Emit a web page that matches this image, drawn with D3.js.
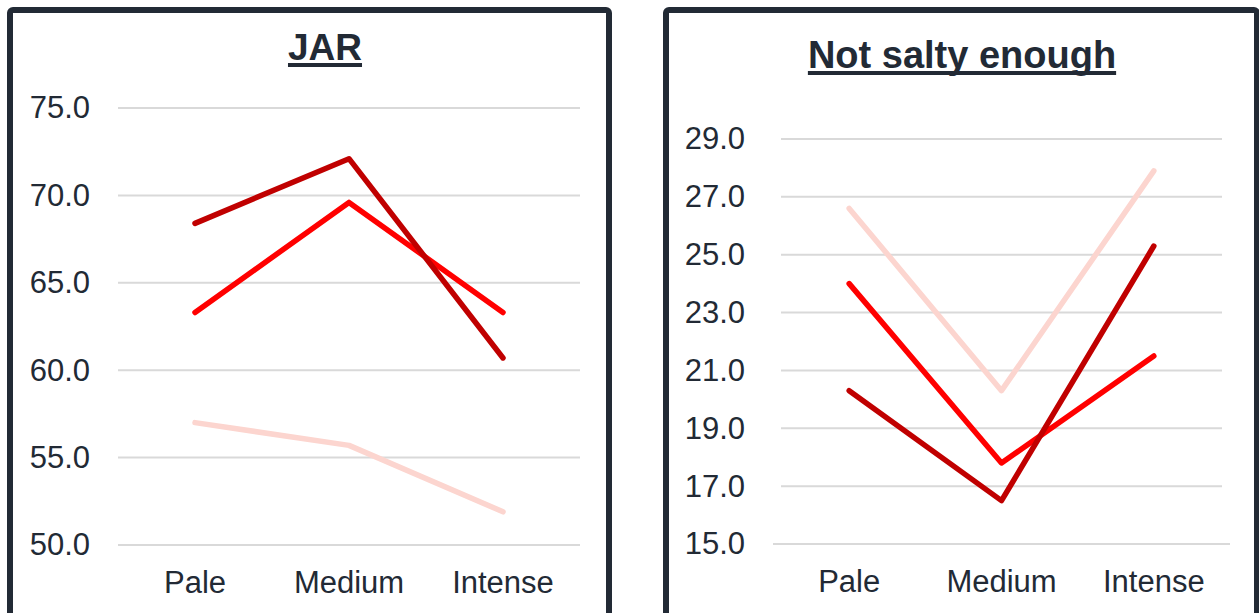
<!DOCTYPE html>
<html>
<head>
<meta charset="utf-8">
<script src="https://cdn.jsdelivr.net/npm/d3@7"></script>
<style>
  body { margin: 0; background: #fff; }
  svg { display: block; font-family: "Liberation Sans", Arial, sans-serif; }
</style>
</head>
<body>
<div id="chart"></div>
<script>
        var categories = ["Pale", "Medium", "Intense"];

        // JAR panel
        var jarDark = [68.4, 72.1, 60.7];
        var jarRed  = [63.3, 69.6, 63.3];
        var jarPink = [57.0, 55.7, 51.9];
        var jarTicks = [50, 55, 60, 65, 70, 75];

        // Not salty enough panel
        var saltDark = [20.3, 16.5, 25.3];
        var saltRed  = [24.0, 17.8, 21.5];
        var saltPink = [26.6, 20.3, 27.9];
        var saltTicks = [15, 17, 19, 21, 23, 25, 27, 29];

        var colors = { dark: "#C00000", red: "#FF0000", pink: "#FCD5CF" };
        var ink = "#222A35";

        var svg = d3.select("#chart")
            .append("svg")
                .attr("width", 1259)
                .attr("height", 613);

        // box = border rect, plot = plot area, gridInset = how far the gridlines stop short
        var panels = [
            { title: "JAR", titleX: 325, titleY: 60, underY: 63, titleSize: 37,
              box: { x: 10, y: 10, w: 599, h: 620 },
              plot: { left: 118, right: 580, top: 108, bottom: 545 },
              domain: [50, 75], ticks: jarTicks, gridInset: 0, labelX: 90,
              series: [["pink", jarPink], ["red", jarRed], ["dark", jarDark]] },
            { title: "Not salty enough", titleX: 962, titleY: 68, underY: 71, titleSize: 38,
              box: { x: 666, y: 10, w: 591, h: 620 },
              plot: { left: 773, right: 1230, top: 139, bottom: 544 },
              domain: [15, 29], ticks: saltTicks, gridInset: 8, labelX: 745,
              series: [["pink", saltPink], ["red", saltRed], ["dark", saltDark]] }
        ];

        panels.forEach(drawPanel);

        function drawPanel(p) {
            var g = svg.append("g");

            g.append("rect")
                .attr("x", p.box.x)
                .attr("y", p.box.y)
                .attr("width", p.box.w)
                .attr("height", p.box.h)
                .attr("rx", 3)
                .attr("fill", "none")
                .attr("stroke", ink)
                .attr("stroke-width", 6);

            var x = d3.scaleBand()
                .domain(categories)
                .range([p.plot.left, p.plot.right])
                .padding(0);
            var y = d3.scaleLinear()
                .domain(p.domain)
                .range([p.plot.bottom, p.plot.top]);

            // gridlines
            g.selectAll(".grid")
                .data(p.ticks)
              .enter().append("line")
                .attr("class", "grid")
                .attr("x1", function(d, i) { return i === 0 ? p.plot.left : p.plot.left + p.gridInset; })
                .attr("x2", function(d, i) { return i === 0 ? p.plot.right : p.plot.right - p.gridInset; })
                .attr("y1", function(d) { return y(d); })
                .attr("y2", function(d) { return y(d); })
                .attr("stroke", "#D9D9D9")
                .attr("stroke-width", 2);

            // y axis labels
            var yAxis = g.append("g")
                .attr("transform", "translate(" + p.labelX + ",0)")
                .call(d3.axisLeft(y).tickValues(p.ticks).tickSize(0).tickPadding(0).tickFormat(d3.format(".1f")));
            yAxis.select(".domain").remove();
            yAxis.selectAll("text")
                .attr("fill", ink)
                .style("font-size", "31px")
                .style("font-family", "'Liberation Sans', Arial, sans-serif");

            // x axis labels
            var xAxis = g.append("g")
                .attr("transform", "translate(0," + p.plot.bottom + ")")
                .call(d3.axisBottom(x).tickSize(0).tickPadding(26));
            xAxis.select(".domain").remove();
            xAxis.selectAll("text")
                .attr("fill", ink)
                .style("font-size", "31px")
                .style("font-family", "'Liberation Sans', Arial, sans-serif");

            var line = d3.line()
                .x(function(d, i) { return x(categories[i]) + x.bandwidth() / 2; })
                .y(function(d) { return y(d); });

            p.series.forEach(function(s) {
                g.append("path")
                    .datum(s[1])
                    .attr("fill", "none")
                    .attr("stroke", colors[s[0]])
                    .attr("stroke-width", 5.5)
                    .attr("stroke-linecap", "round")
                    .attr("stroke-linejoin", "round")
                    .attr("d", line);
            });

            // title with a thick underline
            var title = g.append("text")
                .attr("x", p.titleX)
                .attr("y", p.titleY)
                .attr("text-anchor", "middle")
                .attr("fill", ink)
                .style("font-size", p.titleSize + "px")
                .style("font-weight", "bold")
                .text(p.title);
            var bb = title.node().getBBox();
            g.append("rect")
                .attr("x", bb.x)
                .attr("y", p.underY)
                .attr("width", bb.width)
                .attr("height", 4)
                .attr("fill", ink);
        }
</script>
</body>
</html>
